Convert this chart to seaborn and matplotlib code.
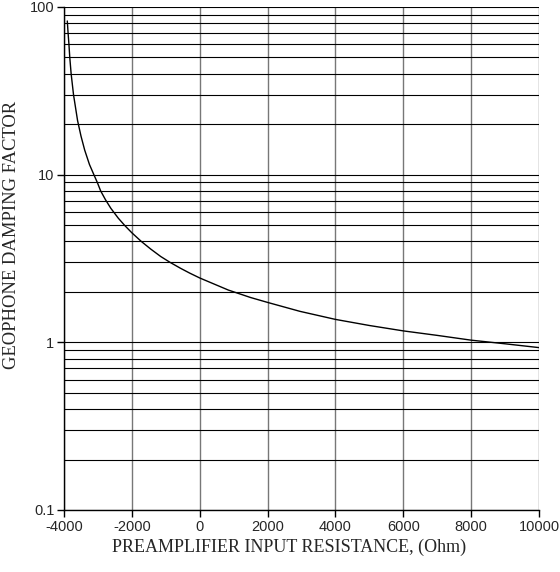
import numpy as np
import pandas as pd
import seaborn as sns
import matplotlib.pyplot as plt
from matplotlib.ticker import LogLocator, NullFormatter, FixedLocator

# values
resistance = [-3903, -3880, -3855, -3830, -3790, -3720, -3600, -3500, -3390, -3250,
              -3120, -3020, -2920, -2780, -2620, -2400, -2200, -2000, -1724, -1445,
              -1150, -876, -560, -300, 0, 843, 1500, 2000, 2955, 4000,
              5000, 6000, 7000, 8000, 9000, 10000]
damping = [82.5, 70.0, 60.0, 50.0, 40.0, 30.0, 21.0, 17.0, 14.0, 11.5,
           10.0, 9.0, 8.0, 7.1, 6.3, 5.5, 4.95, 4.5, 4.0, 3.6,
           3.25, 3.0, 2.76, 2.59, 2.42, 2.05, 1.85, 1.73, 1.53, 1.37,
           1.26, 1.17, 1.10, 1.03, 0.98, 0.93]

x_ticks = [-4000, -2000, 0, 2000, 4000, 6000, 8000, 10000]
y_ticks = [0.1, 1, 10, 100]
y_tick_labels = ["0.1", "1", "10", "100"]

df = pd.DataFrame({"R": resistance, "D": damping})

sns.set_style("white")
plt.rcParams["font.family"] = ["Liberation Sans", "DejaVu Sans"]

fig = plt.figure(figsize=(5.6, 5.72), dpi=100)
ax = fig.add_axes([0.1143, 0.1084, 0.8482, 0.8794])

sns.lineplot(data=df, x="R", y="D", ax=ax, color="black", linewidth=1.0)

ax.set_yscale("log")
ax.set_xlim(-4000, 10000)
ax.set_ylim(0.1, 100)

ax.set_xticks(x_ticks)
ax.set_xticklabels([str(t) for t in x_ticks])
ax.yaxis.set_major_locator(FixedLocator(y_ticks))
ax.set_yticklabels(y_tick_labels)
ax.yaxis.set_minor_locator(LogLocator(base=10, subs=np.arange(2, 10)))
ax.yaxis.set_minor_formatter(NullFormatter())

ax.grid(True, which="major", axis="x", color="#777777", linewidth=1.0)
ax.grid(True, which="both", axis="y", color="black", linewidth=0.8)
ax.set_axisbelow(True)

ax.tick_params(axis="both", which="major", direction="out", length=5, width=1,
               color="black", labelsize=10.5, pad=2, left=True, bottom=True)
ax.tick_params(axis="y", which="minor", length=0)

for side in ["top", "right"]:
    ax.spines[side].set_visible(False)
for side in ["left", "bottom"]:
    ax.spines[side].set_color("black")
    ax.spines[side].set_linewidth(1.0)

ax.set_xlabel("PREAMPLIFIER INPUT RESISTANCE, (Ohm)", family="Liberation Serif",
              fontsize=13, labelpad=4)
ax.set_ylabel("GEOPHONE DAMPING FACTOR", family="Liberation Serif",
              fontsize=13.4, labelpad=3)
ax.xaxis.set_label_coords(0.4747, -0.058)
ax.yaxis.set_label_coords(-0.093, 0.547)

fig.savefig("out.png", dpi=100)
